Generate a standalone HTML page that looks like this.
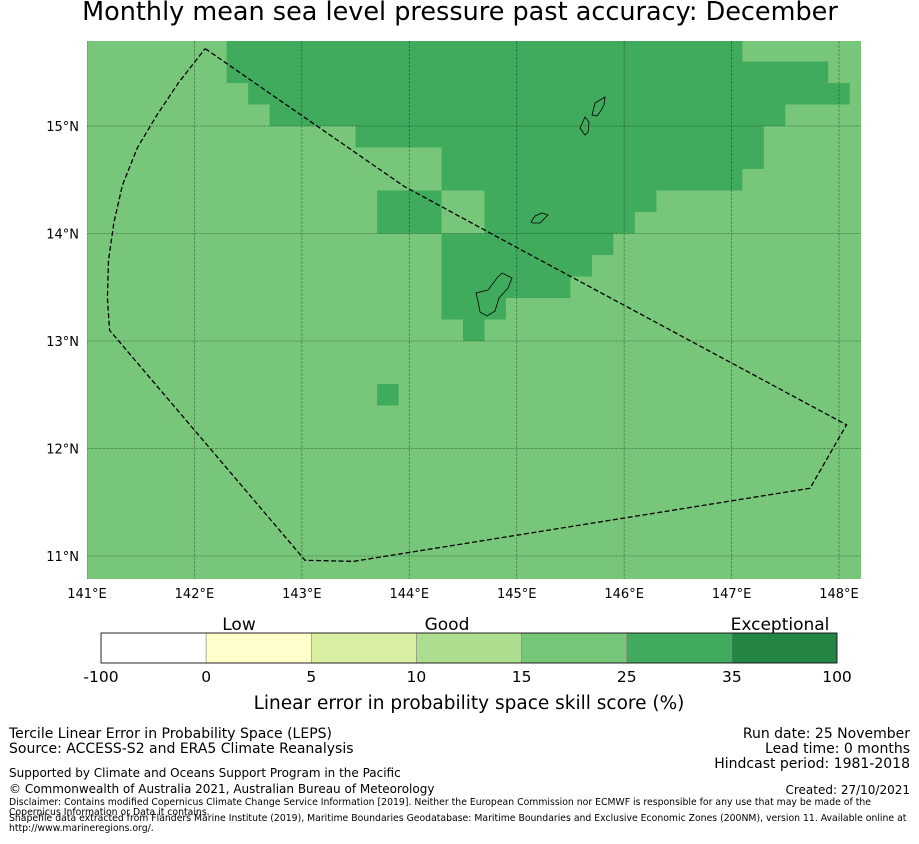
<!DOCTYPE html>
<html><head><meta charset="utf-8"><style>
body{margin:0;background:#fff;width:919px;height:839px;overflow:hidden;font-family:"Liberation Sans","DejaVu Sans",sans-serif}
svg text{font-family:"DejaVu Sans","Liberation Sans",sans-serif}
</style></head><body>
<svg width="919" height="839" xmlns="http://www.w3.org/2000/svg">
<text x="460" y="20" font-size="25.5" text-anchor="middle" fill="#000">Monthly mean sea level pressure past accuracy: December</text>
<defs><clipPath id="mc"><rect x="87" y="41" width="774" height="538"/></clipPath></defs>
<g id="map" clip-path="url(#mc)"></g>
<g id="ticks"></g>
<g id="cbar"></g>
<text x="469" y="709" font-size="18.5" text-anchor="middle">Linear error in probability space skill score (%)</text>
<g font-size="14" font-family="DejaVu Sans">
<text x="9" y="738">Tercile Linear Error in Probability Space (LEPS)</text>
<text x="9" y="753">Source: ACCESS-S2 and ERA5 Climate Reanalysis</text>
<text x="910" y="738" text-anchor="end">Run date: 25 November</text>
<text x="910" y="753" text-anchor="end">Lead time: 0 months</text>
<text x="910" y="768" text-anchor="end">Hindcast period: 1981-2018</text>
<text x="9" y="777" font-size="12">Supported by Climate and Oceans Support Program in the Pacific</text>
<text x="9" y="793" font-size="12">© Commonwealth of Australia 2021, Australian Bureau of Meteorology</text>
<text x="910" y="794" text-anchor="end" font-size="12">Created: 27/10/2021</text>
<text x="9" y="805" font-size="9.3">Disclaimer: Contains modified Copernicus Climate Change Service Information [2019]. Neither the European Commission nor ECMWF is responsible for any use that may be made of the</text>
<text x="9" y="815" font-size="9.3">Copernicus Information or Data it contains.</text>
<text x="9" y="821" font-size="9.3">Shapefile data extracted from Flanders Marine Institute (2019), Maritime Boundaries Geodatabase: Maritime Boundaries and Exclusive Economic Zones (200NM), version 11. Available online at</text>
<text x="9" y="831" font-size="9.3">http://www.marineregions.org/.</text>
</g>
</svg>
<script>
// data
const lonTicks=[141,142,143,144,145,146,147,148];
const latTicks=[15,14,13,12,11];
// dark (25-35) runs: [row, colStart, colEnd) on a 0.2° grid
const darkRuns=[[0,6,30],[1,6,34],[2,7,35],[3,8,32],[4,12,31],[5,16,31],[6,16,30],[7,13,16],[7,18,26],[8,13,16],[8,18,25],[9,16,24],[10,16,23],[11,16,22],[12,16,19],[13,17,18],[16,13,14]];
const cbBounds=["-100","0","5","10","15","25","35","100"];
const cbColors=["#ffffff","#ffffcc","#d9f0a3","#addd8e","#78c679","#41ab5d","#238443"];
const cbCats=["Low","Good","Exceptional"];
const eez=[[142.1,15.72],[143.95,14.44],[145.0,13.87],[148.07,12.22],[147.73,11.63],[143.48,10.95],[143.03,10.96],[141.21,13.10],[141.19,13.4],[141.2,13.75],[141.25,14.1],[141.33,14.45],[141.47,14.8],[141.65,15.1],[141.85,15.4],[142.1,15.72]];
const islands=[
[[145.701,15.102],[145.729,15.214],[145.822,15.270],[145.812,15.195],[145.775,15.130],[145.747,15.093]],
[[145.589,14.981],[145.636,15.084],[145.673,15.037],[145.664,14.944],[145.636,14.916]],
[[145.133,14.107],[145.170,14.163],[145.235,14.191],[145.291,14.172],[145.263,14.144],[145.217,14.098],[145.151,14.098]],
[[144.621,13.447],[144.733,13.474],[144.816,13.586],[144.863,13.633],[144.956,13.586],[144.919,13.493],[144.835,13.400],[144.798,13.279],[144.723,13.233],[144.658,13.270],[144.639,13.372]]];
</script>
<script>
const NS="http://www.w3.org/2000/svg";
const X=lon=>87+(lon-141)*107.43;
const Y=lat=>126+(15-lat)*107.5;
const map=document.getElementById('map');
function mk(t,a,p){const e=document.createElementNS(NS,t);for(const k in a)e.setAttribute(k,a[k]);p.appendChild(e);return e;}
const bg=mk('rect',{x:87,y:41,width:774,height:538,fill:'#78c679'},map);


darkRuns.forEach(r=>{
 const lat0=15.8-0.2*r[0], lon0=141.1+0.2*r[1], lon1=141.1+0.2*r[2];
 const e=mk('rect',{x:X(lon0),y:Y(lat0),width:X(lon1)-X(lon0),height:Y(lat0-0.2)-Y(lat0),fill:'#41ab5d'},map);
 
 
});
lonTicks.forEach(l=>{const e=mk('line',{x1:X(l),x2:X(l),y1:41,y2:579,stroke:'#000','stroke-opacity':0.35,'stroke-width':0.8,'stroke-dasharray':'3,1'},map);
 });
latTicks.forEach(l=>{const e=mk('line',{x1:87,x2:861,y1:Y(l),y2:Y(l),stroke:'#000','stroke-opacity':0.35,'stroke-width':0.8,'stroke-dasharray':'3,1'},map);
 });
islands.forEach(isl=>{const e=mk('polygon',{points:isl.map(p=>X(p[0])+','+Y(p[1])).join(' '),fill:'none',stroke:'#000','stroke-width':0.8},map);
 });
const ez=mk('polyline',{points:eez.map(p=>X(p[0])+','+Y(p[1])).join(' '),fill:'none',stroke:'#000','stroke-width':1.3,'stroke-dasharray':'5,2.5'},map);


const tk=document.getElementById('ticks');
lonTicks.forEach(l=>{const t=mk('text',{x:X(l),y:598,'font-size':13,'text-anchor':'middle'},tk);t.textContent=l+'°E';
 });
latTicks.forEach(l=>{const t=mk('text',{x:79,y:Y(l)+5,'font-size':13,'text-anchor':'end'},tk);t.textContent=l+'°N';
 });
const cb=document.getElementById('cbar');
const cx0=101,cw=736/cbColors.length;
cbColors.forEach((c,i)=>{const e=mk('rect',{x:cx0+i*cw,y:633,width:cw,height:30,fill:c,stroke:'#888','stroke-width':0.6},cb);
 });
mk('rect',{x:cx0,y:633,width:736,height:30,fill:'none',stroke:'#000','stroke-width':0.8},cb);
cbBounds.forEach((b,i)=>{const t=mk('text',{x:cx0+i*cw,y:682,'font-size':15.5,'text-anchor':'middle'},cb);t.textContent=b;
 });
cbCats.forEach((c,i)=>{const t=mk('text',{x:[239,447,780][i],y:630,'font-size':17,'text-anchor':'middle'},cb);t.textContent=c;
 });
</script>
</body></html>
